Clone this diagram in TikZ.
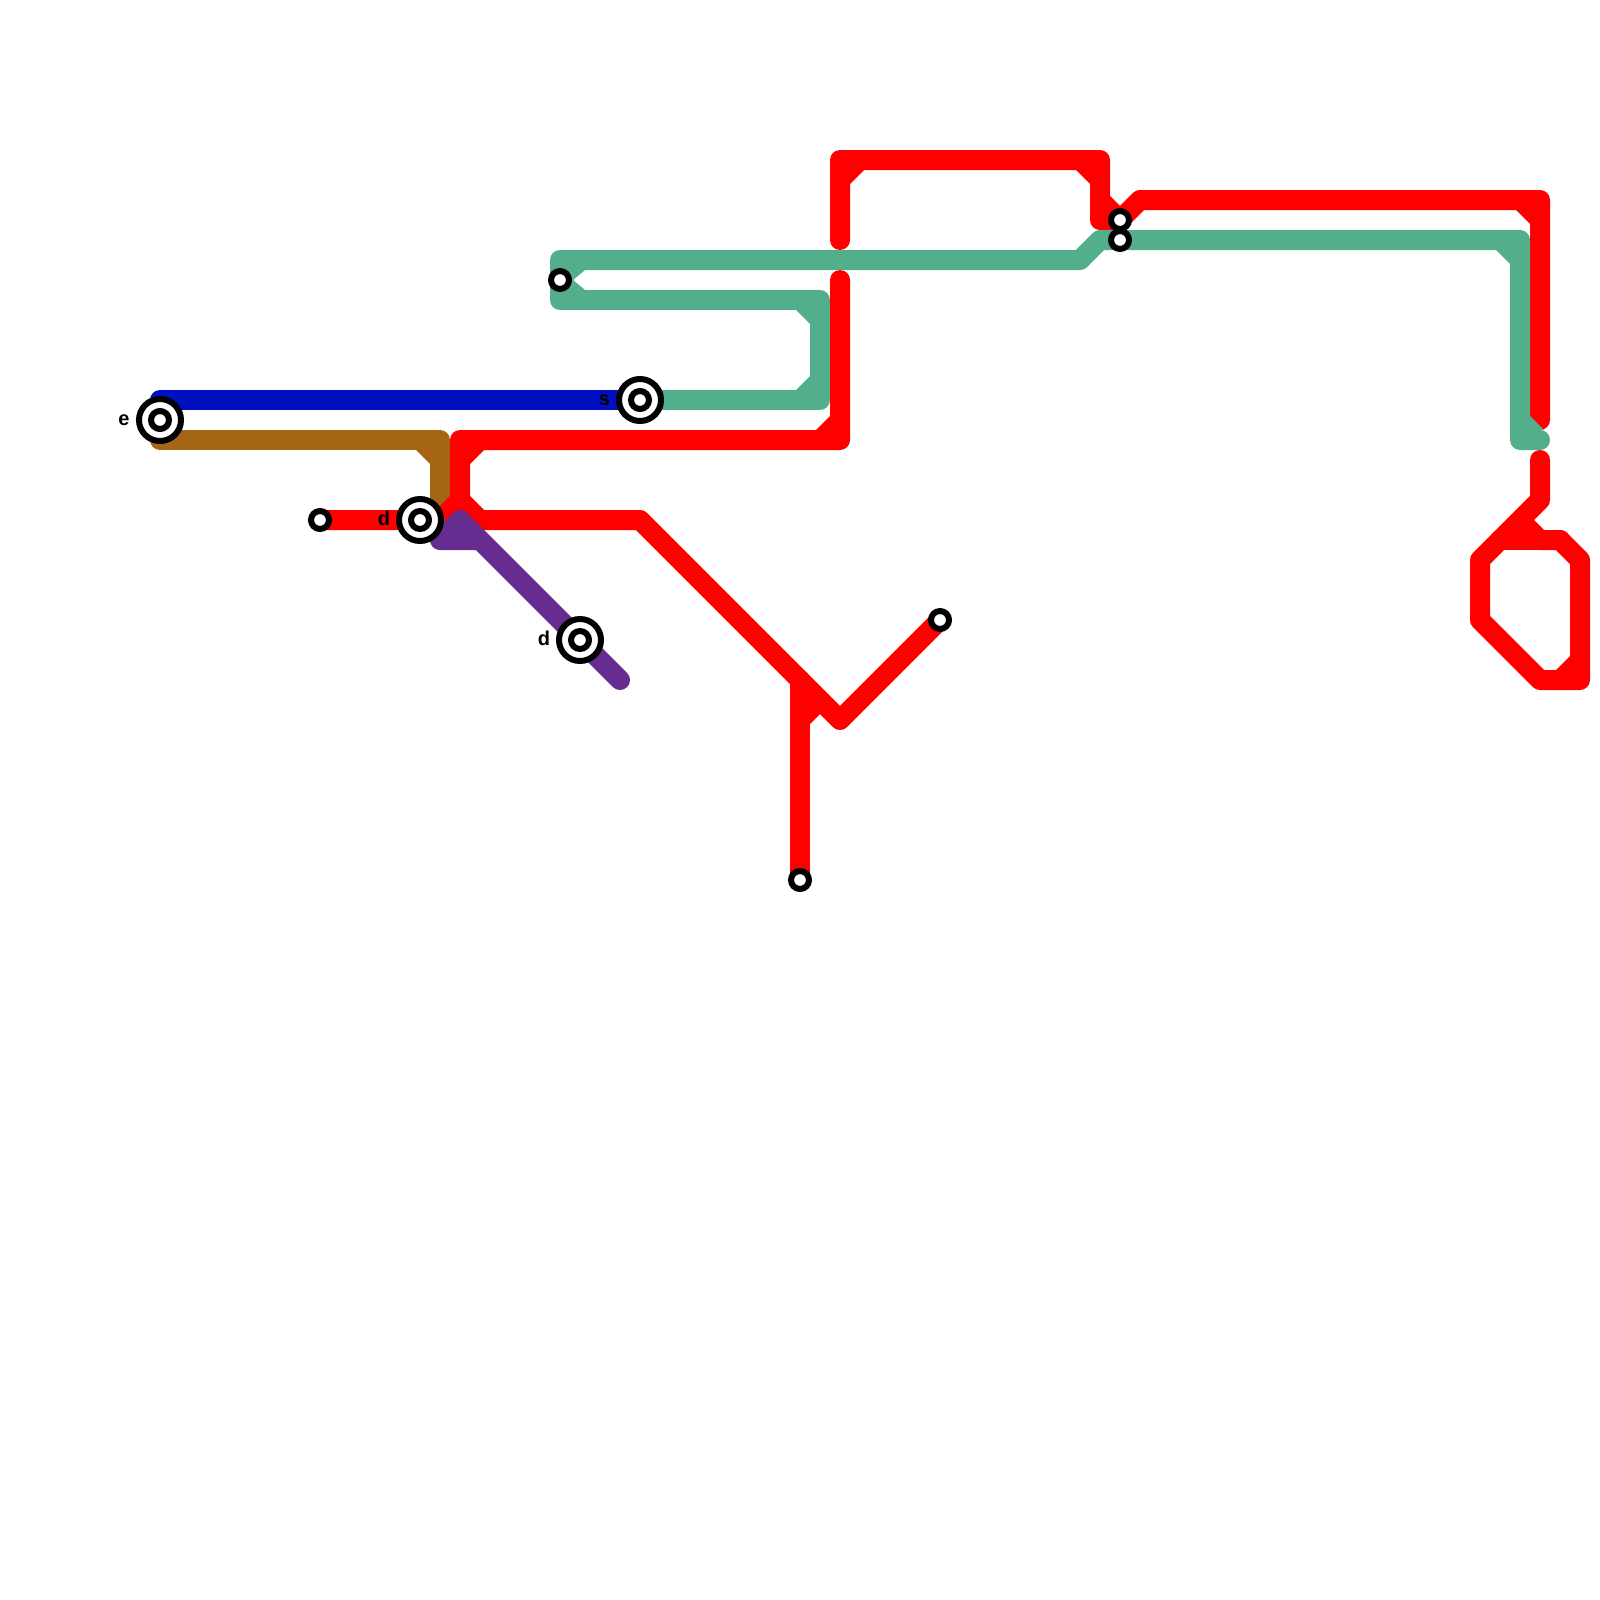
\documentclass[tikz,border=0pt]{standalone}
\usepackage{fontspec}
\setmainfont{Liberation Sans}
\usetikzlibrary{backgrounds}
\definecolor{lblue}{HTML}{0010C0}
\definecolor{lbrown}{HTML}{A66514}
\definecolor{lgreen}{HTML}{53AE8B}
\definecolor{lpurple}{HTML}{662C90}
\definecolor{lred}{HTML}{FF0000}
\tikzset{
  hub/.style={circle,draw=black,fill=white,line width=6pt,minimum size=42pt,inner sep=0pt,outer sep=0pt},
  stop/.style={circle,draw=black,fill=white,line width=6pt,minimum size=18pt,inner sep=0pt,outer sep=0pt},
  tag/.style={font=\bfseries\fontsize{20}{20}\selectfont,text=black,inner sep=0pt},
  route/.style={line width=20pt,line cap=round,line join=round,#1},
}
\newcommand{\chamf}[5]{\fill[#1] (#2,#3) -- ++(#4*14,0) -- ++(-#4*14,#5*14) -- cycle;}
\begin{document}
\begin{tikzpicture}[x=1pt,y=-1pt]
\useasboundingbox (0,0) rectangle (1600,1600);
% stations
\node[hub] (e) at (160,420) {}; \node[stop] (eI) at (e) {};
\node[hub] (d1) at (420,520) {}; \node[stop] (d1I) at (d1) {};
\node[hub] (d2) at (580,640) {}; \node[stop] (d2I) at (d2) {};
\node[hub] (s) at (640,400) {}; \node[stop] (sI) at (s) {};
\node[stop] (a) at (320,520) {};
\node[stop] (b) at (560,280) {};
\node[stop] (c) at (800,880) {};
\node[stop] (f) at (940,620) {};
\node[stop] (g) at (1120,220) {};
\node[stop] (h) at (1120,240) {};
\node[tag] (eL) at (124,420) {e};
\node[tag] (d1L) at (384,518.5) {d};
\node[tag] (d2L) at (544,638) {d};
\node[tag] (sL) at (604.5,400) {s};
% free route ends
\coordinate (rA) at (840,240);
\coordinate (rB) at (1540,420);
\coordinate (rC) at (840,280);
\coordinate (rD) at (460,500);
\coordinate (rE) at (800,680);
\coordinate (rF) at (1520,520);
\coordinate (rG) at (1540,460);
\coordinate (rH) at (1500,540);
\coordinate (rI) at (1560,540);
\coordinate (pA) at (620,680);
\coordinate (pB) at (480,540);
\coordinate (tA) at (440,505);
\coordinate (tB) at (1540,440);
\begin{scope}[on background layer]
% blue
\draw[route=lblue] (e.center) -- (160,400) -- (s.center);
% brown
\draw[route=lbrown] (e.center) -- (160,440) -- (440,440) -- (tA);
\chamf{lbrown}{430}{450}{-1}{1}
% red
\draw[route=lred] (rA) -- (840,160) -- (1100,160) -- (1100,220) -- (g.center) -- (1140,200) -- (1540,200) -- (rB);
\chamf{lred}{850}{170}{1}{1}
\chamf{lred}{1090}{170}{-1}{1}
\chamf{lred}{1110}{210}{1}{-1}
\chamf{lred}{1530}{210}{-1}{1}
\draw[route=lred] (a.center) -- (440,520) -- (460,500) -- (460,440) -- (840,440) -- (rC);
\chamf{lred}{830}{430}{-1}{-1}
\chamf{lred}{470}{450}{1}{1}
\chamf{lred}{470}{510}{1}{-1}
\draw[route=lred] (rD) -- (460,520) -- (640,520) -- (840,720) -- (f.center);
\draw[route=lred] (c.center) -- (rE);
\fill[lred] (810,700) -- (810,724) -- (822,712) -- cycle;
\draw[route=lred] (rF) -- (1540,540) -- (rI) -- (1580,560) -- (1580,680) -- (1540,680) -- (1480,620) -- (1480,560) -- (1540,500) -- (rG);
\draw[route=lred] (rH) -- (rI);
\chamf{lred}{1570}{670}{-1}{-1}
% green
\draw[route=lgreen] (b.center) -- (560,260) -- (1080,260) -- (1100,240) -- (h.center) -- (1520,240) -- (1520,440) -- (tB);
\chamf{lgreen}{1510}{250}{-1}{1}
\chamf{lgreen}{1530}{430}{1}{-1}
\draw[route=lgreen] (b.center) -- (560,300) -- (820,300) -- (820,400) -- (s.center);
\fill[lgreen] (570,270) -- (585,270) -- (573,280) -- (585,290) -- (570,290) -- cycle;
\chamf{lgreen}{810}{310}{-1}{1}
\chamf{lgreen}{810}{390}{-1}{-1}
% purple
\draw[route=lpurple] (pA) -- (460,520) -- (440,540) -- (pB);
\end{scope}
\end{tikzpicture}
\end{document}
